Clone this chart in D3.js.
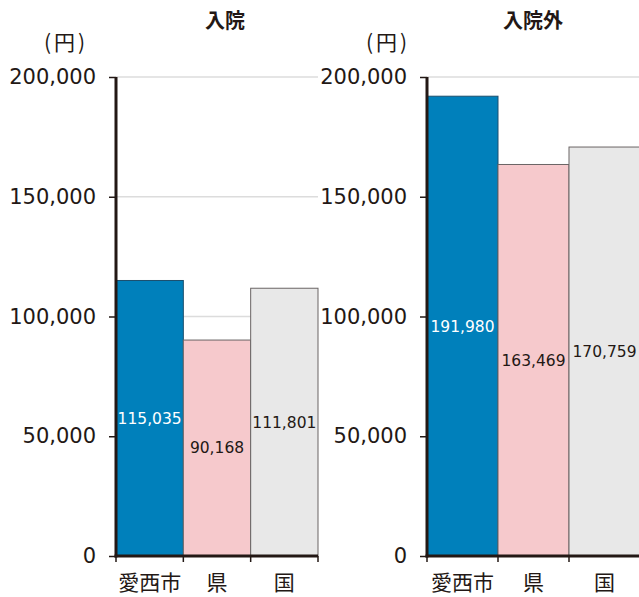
<!DOCTYPE html>
<html>
<head>
<meta charset="utf-8">
<script src="https://cdn.jsdelivr.net/npm/d3@7"></script>
<style>
  html, body { margin: 0; padding: 0; background: #fff; }
  svg { display: block; }
</style>
</head>
<body>
<svg id="chart" width="639" height="597"></svg>
<script>
// 一人当たり医療費（入院・入院外）
const categories = ["愛西市", "県", "国"];
const inpatientValues = [115035, 90168, 111801];
const outpatientValues = [191980, 163469, 170759];
const panelTitles = ["入院", "入院外"];
const yTicks = [0, 50000, 100000, 150000, 200000];
const unitLabel = "(円)";

const barColors = ["#0080bb", "#f6c9cc", "#e8e8e8"];
const labelColors = ["#ffffff", "#231815", "#231815"];
const ink = "#231815";

const svg = d3.select("#chart");
const jpFont = "'Noto Sans CJK JP', 'Noto Sans', sans-serif";
const numFont = "'DejaVu Sans', Verdana, sans-serif";

const y = d3.scaleLinear().domain([0, 200000]).range([556, 77]);
const fmt = d3.format(",");

const panels = [
  { title: panelTitles[0], values: inpatientValues, x0: 116, x1: 318, titleX: 225, unitX: 66 },
  { title: panelTitles[1], values: outpatientValues, x0: 427, x1: 640, titleX: 533, unitX: 388 }
];

panels.forEach(p => {
  const g = svg.append("g");
  const x = d3.scaleBand().domain(categories).range([p.x0, p.x1]).padding(0);

  // gridlines
  g.append("g")
    .selectAll("line")
    .data(yTicks.filter(t => t > 0))
    .join("line")
    .attr("x1", p.x0).attr("x2", p.x1)
    .attr("y1", d => y(d)).attr("y2", d => y(d))
    .attr("stroke", "#dcdcdc").attr("stroke-width", 1.5);

  // bars
  g.append("g")
    .selectAll("rect")
    .data(p.values)
    .join("rect")
    .attr("x", (d, i) => x(categories[i]))
    .attr("y", d => y(d))
    .attr("width", x.bandwidth())
    .attr("height", d => y(0) - y(d))
    .attr("fill", (d, i) => barColors[i])
    .attr("stroke", (d, i) => i === 0 ? "#1c4f6e" : "#6b6565")
    .attr("stroke-width", 1);

  // value labels
  g.append("g")
    .selectAll("text")
    .data(p.values)
    .join("text")
    .attr("x", (d, i) => x(categories[i]) + x.bandwidth() / 2)
    .attr("y", d => (y(d) + y(0)) / 2)
    .attr("dy", "0.35em")
    .attr("text-anchor", "middle")
    .attr("font-family", numFont)
    .attr("font-size", 15.5)
    .attr("fill", (d, i) => labelColors[i])
    .text(d => fmt(d));

  // y axis
  const yAxis = d3.axisLeft(y).tickValues(yTicks).tickFormat(d => fmt(d)).tickSize(7).tickPadding(13);
  const ya = g.append("g").attr("transform", `translate(${p.x0},0)`).call(yAxis);
  ya.select(".domain").remove();
  ya.selectAll(".tick line").attr("stroke", ink).attr("stroke-width", 1.5);
  ya.selectAll(".tick text")
    .attr("font-family", numFont)
    .attr("font-size", 21)
    .attr("fill", ink);
  g.append("line")
    .attr("x1", p.x0).attr("x2", p.x0)
    .attr("y1", y(200000)).attr("y2", y(0) + 1.5)
    .attr("stroke", ink).attr("stroke-width", 3);

  // x axis
  const boundaries = categories.map(c => x(c)).concat([p.x1]);
  g.append("g")
    .selectAll("line")
    .data(boundaries)
    .join("line")
    .attr("x1", d => d).attr("x2", d => d)
    .attr("y1", y(0)).attr("y2", y(0) + 6)
    .attr("stroke", ink).attr("stroke-width", 1.5);
  g.append("line")
    .attr("x1", p.x0 - 1.5).attr("x2", p.x1)
    .attr("y1", y(0)).attr("y2", y(0))
    .attr("stroke", ink).attr("stroke-width", 3);

  g.append("g")
    .selectAll("text")
    .data(categories)
    .join("text")
    .attr("x", d => x(d) + x.bandwidth() / 2)
    .attr("y", 590)
    .attr("text-anchor", "middle")
    .attr("font-family", jpFont)
    .attr("font-size", 21)
    .attr("fill", ink)
    .text(d => d);

  // title and unit
  g.append("text")
    .attr("x", p.titleX).attr("y", 28)
    .attr("text-anchor", "middle")
    .attr("font-family", jpFont)
    .attr("font-weight", "bold")
    .attr("font-size", 20)
    .attr("fill", ink)
    .text(p.title);
  g.append("text")
    .attr("x", p.unitX).attr("y", 50)
    .attr("text-anchor", "middle")
    .attr("font-family", jpFont)
    .attr("font-size", 21)
    .attr("letter-spacing", 3)
    .attr("fill", ink)
    .text(unitLabel);
});
</script>
</body>
</html>
